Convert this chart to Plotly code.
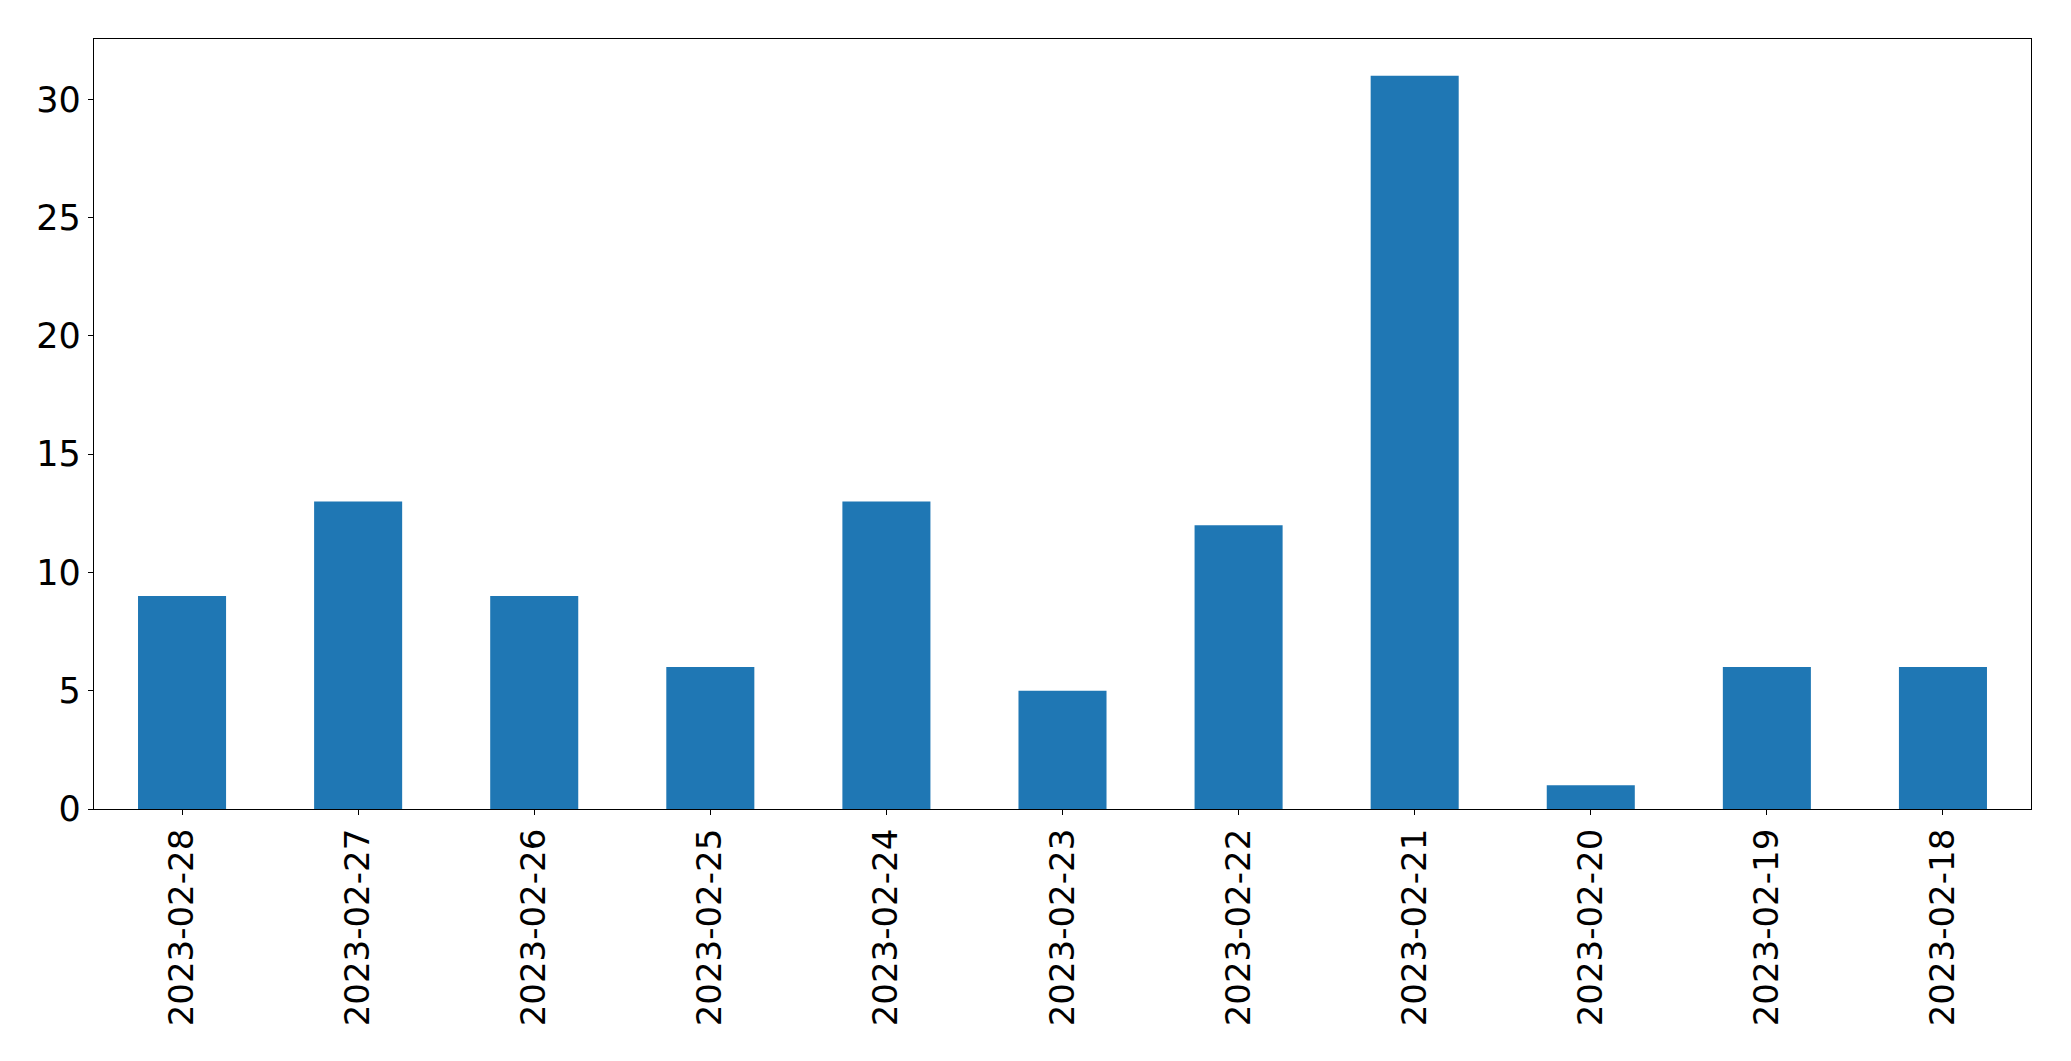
import plotly.graph_objects as go

dates = ["2023-02-28", "2023-02-27", "2023-02-26", "2023-02-25", "2023-02-24", "2023-02-23",
         "2023-02-22", "2023-02-21", "2023-02-20", "2023-02-19", "2023-02-18"]
counts = [9, 13, 9, 6, 13, 5, 12, 31, 1, 6, 6]
y_ticks = [0, 5, 10, 15, 20, 25, 30]

fig = go.Figure(go.Bar(x=dates, y=counts, marker_color="#1f77b4", marker_line_width=0, width=0.5))

# page body has an 8px margin; compensate so the plot area lands where it does in the reference
fig.update_layout(
    width=2055, height=1045,
    margin=dict(l=86, r=32, t=31, b=244, autoexpand=False),
    plot_bgcolor="white", paper_bgcolor="white",
    font=dict(family="DejaVu Sans", size=34, color="black"),
    showlegend=False,
)
fig.update_xaxes(type="category", range=[-0.5, len(dates) - 0.5], tickangle=-90,
                 showline=True, linecolor="black", linewidth=1.3, mirror=True,
                 ticks="outside", ticklen=5, tickwidth=1.3, tickcolor="black",
                 showgrid=False, zeroline=False, tickfont=dict(size=34))
fig.update_yaxes(range=[0, 32.55], tickvals=y_ticks, ticktext=[str(v) for v in y_ticks],
                 showline=True, linecolor="black", linewidth=1.3, mirror=True,
                 ticks="outside", ticklen=5, tickwidth=1.3, tickcolor="black",
                 showgrid=False, zeroline=False, tickfont=dict(size=35))

fig.write_html("out.html")
